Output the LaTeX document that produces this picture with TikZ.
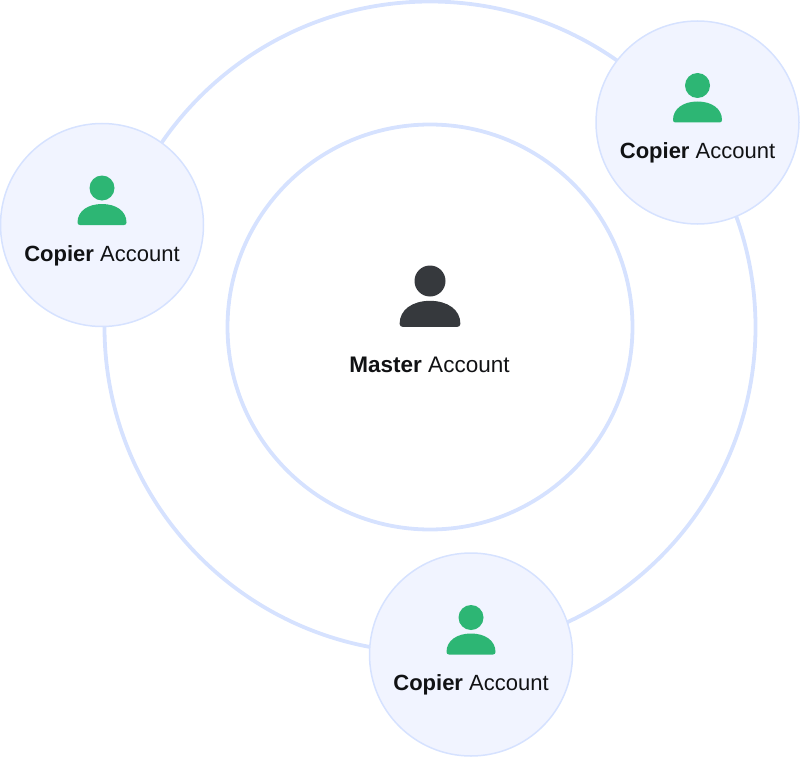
\documentclass[tikz,border=0pt]{standalone}
\usepackage{fontspec}
\setmainfont{Liberation Sans}
\usetikzlibrary{positioning}
\definecolor{ringblue}{HTML}{D6E2FF}
\definecolor{discblue}{HTML}{F1F4FF}
\definecolor{copiergreen}{HTML}{2DB674}
\definecolor{masterdark}{HTML}{36393D}
\definecolor{labelink}{HTML}{111214}
\tikzset{
  ring/.style={circle, draw=ringblue, line width=3.8pt, inner sep=0pt},
  copier disc/.style={circle, draw=ringblue, fill=discblue, line width=1.5pt, inner sep=0pt, minimum size=203pt},
  account label/.style={font=\fontsize{22pt}{26pt}\selectfont, text=labelink, inner sep=0pt},
  person/.pic={
    \fill (0,0) circle (12.5);
    \fill (-24.5,34.5) .. controls (-24.5,23) and (-14,16) .. (0,16)
      .. controls (14,16) and (24.5,23) .. (24.5,34.5)
      .. controls (24.5,36) and (23.5,37) .. (22,37)
      -- (-22,37) .. controls (-23.5,37) and (-24.5,36) .. (-24.5,34.5) -- cycle;
  }
}
\begin{document}
\begin{tikzpicture}[x=1pt, y=-1pt]
  \useasboundingbox (0,0) rectangle (800,757);

  \node [ring, minimum size=651pt] (R0) at (430,327) {};
  \node [ring, minimum size=405pt] (R1) at (430,327) {};

  % master in the middle
  \pic [masterdark, scale=1.24] (P0) at (430,281) {person};
  \node [account label, font=\fontsize{22.5pt}{26pt}\selectfont] (L0) at (429.5,365) {\textbf{Master} Account};

  % the three copiers
  \foreach \i/\x/\y in {1/102/225, 2/697.5/122.5, 3/471/654.5} {
    \node [copier disc] (C\i) at (\x,\y) {};
    \pic [copiergreen] (Q\i) at (\x,\y-37) {person};
    \node [account label] (A\i) at (\x,\y+30.5) {\textbf{Copier} Account};
  }
\end{tikzpicture}
\end{document}
